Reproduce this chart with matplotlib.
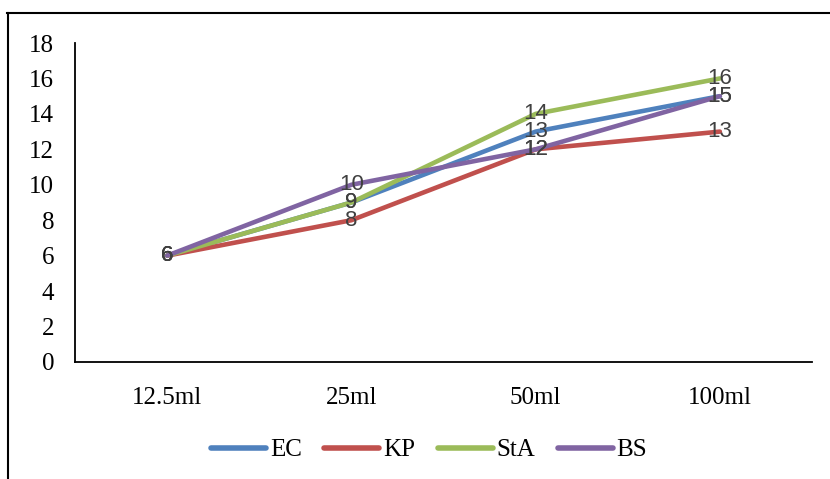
import matplotlib
matplotlib.use("Agg")
import matplotlib.pyplot as plt
from matplotlib.lines import Line2D

categories = ["12.5ml", "25ml", "50ml", "100ml"]
EC = [6, 9, 13, 15]
KP = [6, 8, 12, 13]
StA = [6, 9, 14, 16]
BS = [6, 10, 12, 15]
series = [("EC", EC, "#4F81BD"), ("KP", KP, "#C0504D"),
          ("StA", StA, "#9BBB59"), ("BS", BS, "#8064A2")]
yticks = [0, 2, 4, 6, 8, 10, 12, 14, 16, 18]

W, H = 830, 479
fig = plt.figure(figsize=(W / 100, H / 100), dpi=100)
ax = fig.add_axes([75 / W, 1 - 362 / H, (812 - 75) / W, (362 - 43) / H])

x = list(range(len(categories)))
for name, vals, col in series:
    ax.plot(x, vals, color=col, lw=3.3, solid_capstyle="round", label=name)
for name, vals, col in series:
    for xi, v in zip(x, vals):
        ax.text(xi, v, str(v), ha="center", va="center", fontsize=16,
                family="Liberation Sans", color="#404040")

ax.set_xlim(-0.5, len(categories) - 0.5)
ax.set_ylim(0, 18)
ax.set_yticks(yticks)
ax.set_xticks(x)
ax.set_xticklabels(categories)
for s in ["top", "right"]:
    ax.spines[s].set_visible(False)
for s in ["left", "bottom"]:
    ax.spines[s].set_linewidth(1.3)
    ax.spines[s].set_color("black")
ax.tick_params(axis="both", length=0, labelsize=18)
ax.tick_params(axis="y", pad=15)
ax.tick_params(axis="x", pad=18)
for lab in ax.get_xticklabels() + ax.get_yticklabels():
    lab.set_family("Liberation Serif")

leg = fig.legend(loc="center", bbox_to_anchor=(429 / W, 1 - 450 / H), ncol=4,
                 frameon=False, prop={"family": "Liberation Serif", "size": 18},
                 handlelength=2.2, handletextpad=0.15, columnspacing=0.9)
for h in leg.get_lines():
    h.set_linewidth(4)

fig.add_artist(Line2D([7 / W, 1], [1 - 13 / H, 1 - 13 / H], color="black", lw=1.5,
                      transform=fig.transFigure))
fig.add_artist(Line2D([8 / W, 8 / W], [0, 1 - 13 / H], color="black", lw=1.5,
                      transform=fig.transFigure))

fig.savefig("out.png", dpi=100)
